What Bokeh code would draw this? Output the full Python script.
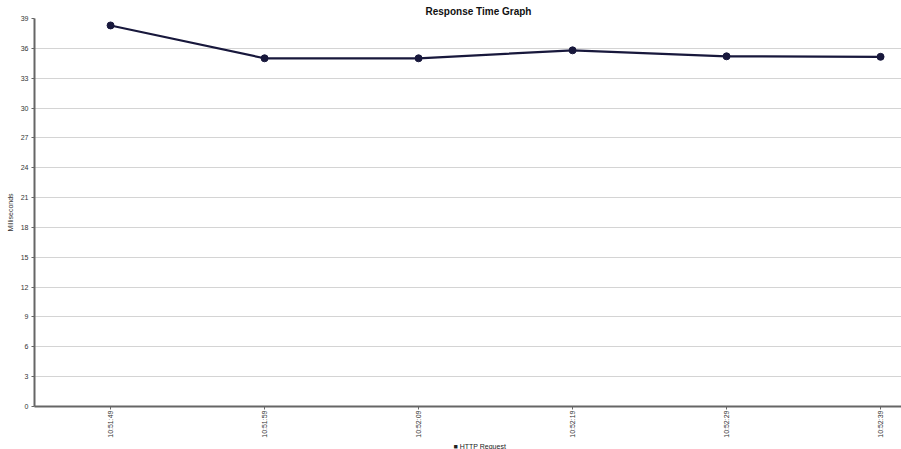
from bokeh.plotting import figure
from bokeh.models import Range1d, FixedTicker, Title
from bokeh.embed import file_html
from bokeh.resources import INLINE
import math

# Data
times = ["10:51:49", "10:51:59", "10:52:09", "10:52:19", "10:52:29", "10:52:39"]
response_ms = [38.3, 35.0, 35.0, 35.8, 35.2, 35.15]
y_ticks = list(range(0, 40, 3))
series_name = "HTTP Request"

xs = list(range(len(times)))
FONT = "Liberation Sans"
LINE_COLOR = "#18183c"

p = figure(width=901, height=449, output_backend="svg", toolbar_location=None,
           x_range=Range1d(-0.494, 5.136), y_range=Range1d(0, 39),
           min_border_left=34, min_border_right=0, min_border_top=18, min_border_bottom=42)
p.title = None
t = Title(text="Response Time Graph", align="left", text_font=FONT,
          text_font_size="10px", text_font_style="bold", text_color="#111111",
          standoff=4, offset=391)
p.add_layout(t, "above")

p.outline_line_color = None
p.background_fill_color = "white"
p.border_fill_color = "white"

p.line(xs, response_ms, line_color=LINE_COLOR, line_width=2.2)
p.scatter(xs, response_ms, marker="circle", size=7, fill_color=LINE_COLOR, line_color=LINE_COLOR)

# Legend (as a caption below the axis)
leg = Title(text="\u25a0 " + series_name, align="left", text_font=FONT,
            text_font_size="7px", text_font_style="normal", text_color="#222222",
            standoff=0, offset=419)
p.add_layout(leg, "below")

# Axes
p.xaxis.ticker = FixedTicker(ticks=xs)
p.xaxis.major_label_overrides = {i: s for i, s in enumerate(times)}
p.xaxis.major_label_orientation = math.pi / 2
p.yaxis.ticker = FixedTicker(ticks=y_ticks)
p.yaxis.axis_label = "Milliseconds"

for ax in (p.xaxis[0], p.yaxis[0]):
    ax.axis_line_color = "#666666"
    ax.axis_line_width = 2
    ax.major_tick_line_color = "#666666"
    ax.major_tick_out = 3
    ax.major_tick_in = 0
    ax.minor_tick_line_color = None
    ax.major_label_text_font = FONT
    ax.major_label_text_font_size = "7px"
    ax.major_label_text_color = "#333333"
    ax.major_label_standoff = 3
    ax.axis_label_text_font = FONT
    ax.axis_label_text_font_size = "7px"
    ax.axis_label_text_font_style = "normal"
    ax.axis_label_text_color = "#333333"
    ax.axis_label_standoff = 4

p.xaxis[0].major_label_standoff = 1

p.xgrid.grid_line_color = None
p.ygrid.grid_line_color = "#d4d4d4"
p.ygrid.grid_line_width = 1

open("out.html", "w").write(file_html(p, INLINE))
